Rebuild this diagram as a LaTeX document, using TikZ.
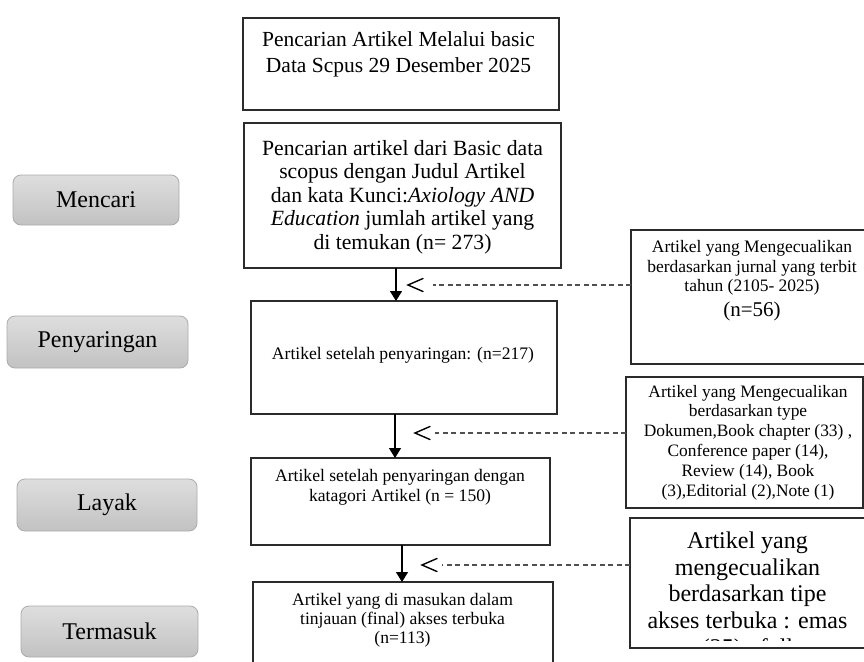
\documentclass[tikz,border=0pt]{standalone}
\usepackage{fontspec}
\setmainfont{Liberation Serif}
\usetikzlibrary{arrows.meta,calc}
\definecolor{bord}{HTML}{2B2B2B}
\definecolor{lbord}{HTML}{ABABAB}
\definecolor{ltop}{HTML}{DEDEDE}
\definecolor{lbot}{HTML}{C2C2C2}
\definecolor{dcol}{HTML}{505050}
\begin{document}
\begin{tikzpicture}[x=1pt,y=-1pt,
  mbox/.style={draw=bord, line width=1.4pt, inner sep=0pt, outer sep=0pt, fill=white},
  lbl/.style={draw=lbord, line width=0.8pt, rounded corners=8pt, top color=ltop, bottom color=lbot, inner sep=0pt, outer sep=0pt, font=\fontsize{24}{28}\selectfont},
  txt/.style={align=center, inner sep=0pt, text=black},
  arr/.style={line width=1.4pt, draw=black, -{Triangle[length=10pt,width=12pt]}},
  dsh/.style={line width=1.1pt, draw=dcol, dash pattern=on 5pt off 3.5pt},
  barb/.style={line width=1.4pt, draw=black, line cap=round, line join=miter}
]
\useasboundingbox (0,0) rectangle (864,661);
\clip (0,0) rectangle (864,661);

% main boxes
\node[mbox, minimum width=316pt, minimum height=92pt] (b1) at (401,64) {};
\node[mbox, minimum width=317pt, minimum height=145pt] (b2) at (402.5,195.5) {};
\node[mbox, minimum width=306pt, minimum height=113pt] (b3) at (404,357.5) {};
\node[mbox, minimum width=299pt, minimum height=87pt] (b4) at (400.5,501.5) {};
\node[mbox, minimum width=300pt, minimum height=118pt] (b5) at (403,641) {};

% right boxes
\node[mbox, minimum width=249pt, minimum height=134pt] (r1) at (755.5,297) {};
\node[mbox, minimum width=237pt, minimum height=131pt] (r2) at (744.5,442.5) {};
\node[mbox, minimum width=250pt, minimum height=130pt] (r3) at (755,583) {};

% left labels
\node[lbl, minimum width=166pt, minimum height=50pt] (l1) at (96,200) {Mencari};
\node[lbl, minimum width=181pt, minimum height=52pt] (l2) at (97.5,342) {Penyaringan};
\node[lbl, minimum width=180pt, minimum height=52pt] (l3) at (107,505) {Layak};
\node[lbl, minimum width=177pt, minimum height=51pt] (l4) at (109.5,631.5) {Termasuk};

% texts
\node[txt, font=\fontsize{21.5}{25.5}\selectfont] (t1) at (398.5,54.5)
  {Pencarian Artikel Melalui basic\\Data Scpus 29 Desember 2025};
\node[txt, font=\fontsize{21.7}{23.5}\selectfont] (t2) at (402.5,197)
  {Pencarian artikel dari Basic data\\scopus dengan Judul Artikel\\dan kata Kunci:\textit{Axiology AND}\\\textit{Education} jumlah artikel yang\\di temukan (n= 273)};
\node[txt, font=\fontsize{17.6}{20}\selectfont] (t3) at (403,355)
  {Artikel setelah penyaringan: (n=217)};
\node[txt, font=\fontsize{17.6}{19.5}\selectfont] (t4) at (400,487.5)
  {Artikel setelah penyaringan dengan\\katagori Artikel (n = 150)};
\node[txt, font=\fontsize{17.6}{19}\selectfont] (t5) at (402.5,620)
  {Artikel yang di masukan dalam\\tinjauan (final) akses terbuka\\(n=113)};
\node[txt, font=\fontsize{17.5}{19.5}\selectfont] (tr1) at (752,268)
  {Artikel yang Mengecualikan\\berdasarkan jurnal yang terbit\\tahun (2105- 2025)};
\node[txt, font=\fontsize{21}{24}\selectfont] (tn) at (752,311) {(n=56)};
\node[txt, font=\fontsize{17.4}{19.8}\selectfont] (tr2) at (748,442.5)
  {Artikel yang Mengecualikan\\berdasarkan type\\Dokumen,Book chapter (33) ,\\Conference paper (14),\\Review (14), Book\\(3),Editorial (2),Note (1)};
\begin{scope}
  \clip ($(r3.north west)+(1,1)$) rectangle (880,640);
  \node[txt, font=\fontsize{24}{26.7}\selectfont] (tr3) at (747.5,596)
    {Artikel yang\\mengecualikan\\berdasarkan tipe\\akses terbuka : emas\\(25) , full};
\end{scope}

% solid arrows
\coordinate (ax1) at (396,0);
\coordinate (ax2) at (395,0);
\coordinate (ax3) at (402,0);
\draw[arr] (ax1 |- b2.south) -- (ax1 |- b3.north);
\draw[arr] (ax2 |- b3.south) -- (ax2 |- b4.north);
\draw[arr] (ax3 |- b4.south) -- (ax3 |- b5.north);

% dashed exclusion connectors
\coordinate (d1) at (433,285);  \coordinate (p1) at (408,285);
\coordinate (d2) at (435,433);  \coordinate (p2) at (415,433);
\coordinate (d3) at (442,565);  \coordinate (p3) at (422,565);
\draw[dsh] (r1.west |- d1) -- (d1);
\draw[dsh] (r2.west |- d2) -- (d2);
\draw[dsh] (r3.west |- d3) -- (d3);
\draw[barb] ($(p1)+(15,-6.5)$) -- (p1) -- ($(p1)+(15,6.5)$);
\draw[barb] ($(p2)+(15,-6.5)$) -- (p2) -- ($(p2)+(15,6.5)$);
\draw[barb] ($(p3)+(15,-6.5)$) -- (p3) -- ($(p3)+(15,6.5)$);
\end{tikzpicture}
\end{document}
